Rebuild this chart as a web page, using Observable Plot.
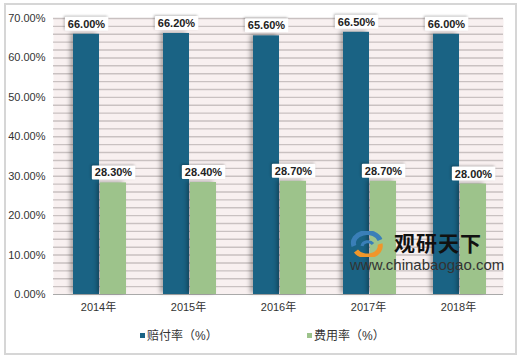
<!DOCTYPE html>
<html><head><meta charset="utf-8">
<script src="https://cdn.jsdelivr.net/npm/d3@7"></script>
<script src="https://cdn.jsdelivr.net/npm/@observablehq/plot@0.6"></script>
<style>
body{margin:0;background:#fff;font-family:"Liberation Sans",Arial,"Noto Sans CJK SC",sans-serif;}
#wrap{position:relative;width:520px;height:359px;overflow:hidden;}
#frame{position:absolute;left:4px;top:3px;width:509px;height:348px;border:2px solid #d6d6d6;box-sizing:content-box;}
#chart{position:absolute;left:0;top:0;}
#legend{position:absolute;top:326px;left:0;width:520px;font-size:12px;color:#333;}
#legend span{position:absolute;white-space:nowrap;}
#legend i{display:inline-block;width:5px;height:5px;margin-right:2px;vertical-align:middle;position:relative;top:-1px;}
#wm{position:absolute;left:350px;top:230px;pointer-events:none;}
#wm .t1{position:absolute;left:44px;top:2px;font-size:21px;font-weight:bold;color:#111;letter-spacing:1px;white-space:nowrap;font-family:"Noto Sans CJK SC",sans-serif;line-height:21px;height:21px;}
#wm .t2{position:absolute;left:0px;top:28px;font-size:15px;color:#333;white-space:nowrap;line-height:14px;height:14px;}
</style></head>
<body>
<div id="wrap">
<div id="frame"></div>
<div id="chart"></div>
<div id="wm">
<svg width="36" height="26" style="position:absolute;left:0;top:1px">
<path d="M4,15 A13,10 0 0 1 30,9" fill="none" stroke="#3a7fb8" stroke-width="5"/>
<path d="M30,13 A13,10 0 0 1 6,20" fill="none" stroke="#f0962a" stroke-width="5"/>
<path d="M12,15 A6,5 0 0 1 23,13" fill="none" stroke="#3a7fb8" stroke-width="3"/>
</svg>
<div class="t1">观研天下</div>
<div class="t2">www.chinabaogao.com</div>
</div>
<div id="legend">
<span style="left:140px"><i style="background:#1a6384"></i>赔付率（%）</span>
<span style="left:307px"><i style="background:#9dc38b"></i>费用率（%）</span>
</div>
</div>
<script>
const years = ["2014年","2015年","2016年","2017年","2018年"];
const payoutRate = [66.0, 66.2, 65.6, 66.5, 66.0];
const expenseRate = [28.3, 28.4, 28.7, 28.7, 28.0];
const yTicks = [0,10,20,30,40,50,60,70];
const seriesNames = ["赔付率（%）","费用率（%）"];

const blue = years.map((y,i)=>({year:y, v:payoutRate[i]}));
const green = years.map((y,i)=>({year:y, v:expenseRate[i]}));
const fmt = v => v.toFixed(2) + "%";

const chart = Plot.plot({
  width: 520, height: 320,
  marginLeft: 53, marginRight: 17, marginTop: 18, marginBottom: 26,
  style: {fontFamily: '"Liberation Sans",Arial,"Noto Sans CJK SC",sans-serif', fontSize: "11px", color: "#333", background: "transparent"},
  x: {domain: years, padding: 0, label: null, tickSize: 0, tickPadding: 9},
  y: {domain: [0, 70], ticks: yTicks, tickFormat: fmt, label: null, tickSize: 0, tickPadding: 8},
  marks: [
    Plot.frame({fill: "#f8f0f0", stroke: null}),
    Plot.ruleY(d3.range(2, 71, 2), {stroke: "#c9c1c1", strokeWidth: 1.4}),
    Plot.ruleY([0], {stroke: "#a9a9a9", strokeWidth: 1.2}),
    Plot.barY(blue, {x: "year", y: "v", fill: "#1a6384", insetLeft: 20, insetRight: 44, className: "bars"}),
    Plot.barY(green, {x: "year", y: "v", fill: "#9dc38b", insetLeft: 47, insetRight: 17, className: "bars"}),
    Plot.text(blue, {x: "year", y: "v", text: d => fmt(d.v), dx: -12, dy: -10, fontWeight: "bold", fontSize: 11, fill: "#222", className: "lbl"}),
    Plot.text(green, {x: "year", y: "v", text: d => fmt(d.v), dx: 15, dy: -10, fontWeight: "bold", fontSize: 11, fill: "#222", className: "lbl"})
  ]
});
document.getElementById("chart").appendChild(chart);
d3.select(chart).selectAll("g.bars").style("filter", "drop-shadow(-3px -1px 2px rgba(0,0,0,0.3))");
d3.select(chart).selectAll("g.lbl text").each(function(){
  const b = this.getBBox();
  const t = this.getAttribute("transform");
  const r = document.createElementNS("http://www.w3.org/2000/svg","rect");
  r.setAttribute("x", b.x - 3); r.setAttribute("y", b.y - 1);
  r.setAttribute("width", b.width + 6); r.setAttribute("height", b.height + 2);
  r.setAttribute("fill", "#fff");
  r.setAttribute("rx", 1);
  r.setAttribute("style", "filter:drop-shadow(-1px -1px 1px rgba(0,0,0,0.25))");
  if (t) r.setAttribute("transform", t);
  this.parentNode.insertBefore(r, this);
});
</script>
</body></html>
